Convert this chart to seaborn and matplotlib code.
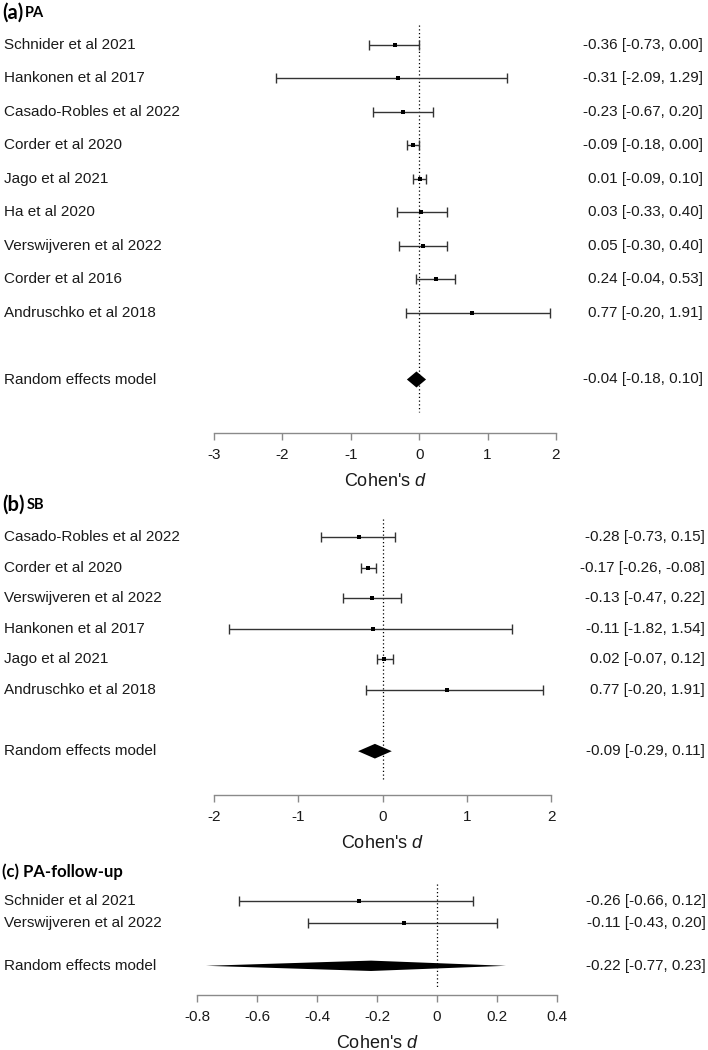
import numpy as np
import pandas as pd
import matplotlib.pyplot as plt
from matplotlib.transforms import blended_transform_factory
import seaborn as sns

# ── Data ─────────────────────────────────────────────────────────────────────
PA_STUDIES = ["Schnider et al 2021", "Hankonen et al 2017", "Casado-Robles et al 2022",
              "Corder et al 2020", "Jago et al 2021", "Ha et al 2020",
              "Verswijveren et al 2022", "Corder et al 2016", "Andruschko et al 2018"]
PA_EST = [-0.36, -0.31, -0.23, -0.09, 0.01, 0.03, 0.05, 0.24, 0.77]
PA_LO = [-0.73, -2.09, -0.67, -0.18, -0.09, -0.33, -0.30, -0.04, -0.20]
PA_HI = [0.00, 1.29, 0.20, 0.00, 0.10, 0.40, 0.40, 0.53, 1.91]
PA_POOLED = (-0.04, -0.18, 0.10)

SB_STUDIES = ["Casado-Robles et al 2022", "Corder et al 2020", "Verswijveren et al 2022",
              "Hankonen et al 2017", "Jago et al 2021", "Andruschko et al 2018"]
SB_EST = [-0.28, -0.17, -0.13, -0.11, 0.02, 0.77]
SB_LO = [-0.73, -0.26, -0.47, -1.82, -0.07, -0.20]
SB_HI = [0.15, -0.08, 0.22, 1.54, 0.12, 1.91]
SB_POOLED = (-0.09, -0.29, 0.11)

FU_STUDIES = ["Schnider et al 2021", "Verswijveren et al 2022"]
FU_EST = [-0.26, -0.11]
FU_LO = [-0.66, -0.43]
FU_HI = [0.12, 0.20]
FU_POOLED = (-0.22, -0.77, 0.23)

PA_TICKS = [-3, -2, -1, 0, 1, 2]
SB_TICKS = [-2, -1, 0, 1, 2]
FU_TICKS = [-0.8, -0.6, -0.4, -0.2, 0, 0.2, 0.4]
FU_TICKLABELS = ["-0.8", "-0.6", "-0.4", "-0.2", "0", "0.2", "0.4"]

# ── Style ────────────────────────────────────────────────────────────────────
sns.set_theme(style="white")
plt.rcParams["font.family"] = ["Liberation Sans", "DejaVu Sans"]
plt.rcParams.update({
    "mathtext.fontset": "custom",
    "mathtext.rm": "Liberation Sans",
    "mathtext.it": "Liberation Sans:italic",
})
TXT = "#1a1a1a"
GREY = "#8a8a8a"

W, H = 708, 1050
fig = plt.figure(figsize=(W / 100, H / 100), dpi=100)


def panel(studies, est, lo, hi, pooled, ticks, ticklabels,
          px_left, px_right, row0, spacing, rand_row, axis_px, dot_top_px, dot_bot_px,
          title_px, title_parts, rlabel_x=705):
    # axes covering the data range; y in row units (inverted)
    top_px = dot_top_px - 2
    y_top = (top_px - row0) / spacing
    y_bot = (axis_px - row0) / spacing
    ax = fig.add_axes([px_left / W, 1 - axis_px / H,
                       (px_right - px_left) / W, (axis_px - top_px) / H])
    ax.set_xlim(ticks[0], ticks[-1])
    ax.set_ylim(y_bot, y_top)

    df = pd.DataFrame({"study": studies, "est": est, "lo": lo, "hi": hi,
                       "row": np.arange(len(studies))})

    # null line
    ax.vlines(0, (dot_top_px - row0) / spacing, (dot_bot_px - row0) / spacing,
              colors="black", linestyles=(0, (1, 2)), lw=0.9, zorder=1)

    # CIs + point estimates
    ax.errorbar(df["est"], df["row"],
                xerr=[df["est"] - df["lo"], df["hi"] - df["est"]],
                fmt="none", ecolor="#333333", elinewidth=1.0, capsize=3.5,
                capthick=1.0, zorder=2)
    sns.scatterplot(data=df, x="est", y="row", marker="s", color="black",
                    s=10, linewidth=0, ax=ax, zorder=3)

    # pooled diamond
    pe, plo, phi = pooled
    h = 0.24
    ax.fill([plo, pe, phi, pe], [rand_row, rand_row - h, rand_row, rand_row + h],
            color="black", lw=0, zorder=3)

    # axis styling
    for sp in ["top", "left", "right"]:
        ax.spines[sp].set_visible(False)
    ax.spines["bottom"].set_color(GREY)
    ax.spines["bottom"].set_linewidth(1.0)
    ax.spines["bottom"].set_bounds(ticks[0], ticks[-1])
    ax.set_xticks(ticks)
    ax.set_xticklabels(ticklabels)
    ax.set_yticks([])
    ax.tick_params(axis="x", direction="out", length=5, width=1.0,
                   color=GREY, labelsize=11, labelcolor=TXT, pad=6,
                   bottom=True)
    ax.set_xlabel("")
    ax.set_ylabel("")

    # study labels (left) and effect texts (right)
    tr = blended_transform_factory(fig.transFigure, ax.transData)
    for _, r in df.iterrows():
        ax.text(4 / W, r["row"], r["study"], transform=tr, ha="left", va="center",
                fontsize=11, color=TXT)
        ax.text(rlabel_x / W, r["row"],
                f"{r['est']:.2f} [{r['lo']:.2f}, {r['hi']:.2f}]",
                transform=tr, ha="right", va="center", fontsize=11, color=TXT)
    ax.text(4 / W, rand_row, "Random effects model", transform=tr, ha="left",
            va="center", fontsize=11, color=TXT)
    ax.text(rlabel_x / W, rand_row, f"{pe:.2f} [{plo:.2f}, {phi:.2f}]",
            transform=tr, ha="right", va="center", fontsize=11, color=TXT)

    # x label
    fig.text((px_left + px_right) / 2 / W, 1 - (axis_px + 48) / H, "Cohen's $d$",
             ha="center", va="center", fontsize=13, color=TXT)

    # panel title
    x = 2
    for txt, size in title_parts:
        t = fig.text(x / W, 1 - title_px / H, txt, ha="left", va="center",
                     fontsize=size, fontweight="bold", family=["Lato", "DejaVu Sans"],
                     color="black")
        fig.canvas.draw()
        x = t.get_window_extent().x1 + 2
    return ax


panel(PA_STUDIES, PA_EST, PA_LO, PA_HI, PA_POOLED, PA_TICKS,
      [str(t) for t in PA_TICKS],
      px_left=214, px_right=556, row0=45, spacing=33.45, rand_row=10,
      axis_px=433, dot_top_px=25, dot_bot_px=412,
      title_px=13, title_parts=[("(a)", 14.5), ("PA", 10.5)], rlabel_x=703)

panel(SB_STUDIES, SB_EST, SB_LO, SB_HI, SB_POOLED, SB_TICKS,
      [str(t) for t in SB_TICKS],
      px_left=214, px_right=551, row0=537, spacing=30.6, rand_row=7,
      axis_px=795, dot_top_px=519, dot_bot_px=780,
      title_px=505, title_parts=[("(b)", 14.5), ("SB", 10.5)], rlabel_x=705)

panel(FU_STUDIES, FU_EST, FU_LO, FU_HI, FU_POOLED, FU_TICKS, FU_TICKLABELS,
      px_left=197, px_right=557, row0=901, spacing=21.6, rand_row=3,
      axis_px=995, dot_top_px=884, dot_bot_px=988,
      title_px=872, title_parts=[("(c) PA-follow-up", 12)], rlabel_x=706)

fig.savefig("out.png", dpi=100, facecolor="white")
